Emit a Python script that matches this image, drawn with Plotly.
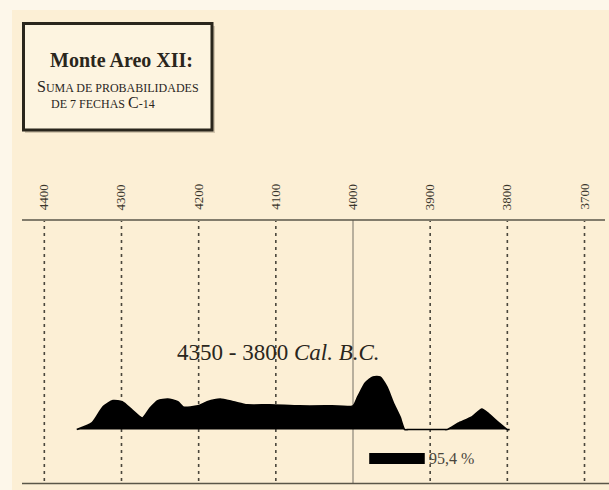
import plotly.graph_objects as go

# ---- data ----
years = [4358, 4338, 4324, 4311, 4299, 4286, 4273, 4263, 4253, 4240, 4227, 4220,
         4201, 4189, 4172, 4155, 4137, 4108, 4069, 4027, 4000, 3994, 3984, 3974,
         3965, 3956, 3948, 3939, 3933, 3928, 3883, 3878, 3864, 3846, 3833, 3825,
         3812, 3800, 3797]
prob = [0.0, 0.13, 0.43, 0.55, 0.53, 0.37, 0.22, 0.41, 0.55, 0.58, 0.53, 0.43,
        0.45, 0.53, 0.58, 0.53, 0.47, 0.47, 0.45, 0.45, 0.45, 0.62, 0.89, 1.0,
        1.0, 0.81, 0.52, 0.24, 0.0, 0.0, 0.0, 0.0, 0.12, 0.24, 0.39, 0.31,
        0.14, 0.0, 0.0]
tick_years = [4400, 4300, 4200, 4100, 4000, 3900, 3800, 3700]
tick_labels = [str(t) for t in tick_years]
range_954 = [3979, 3907]
range_label = "95,4 %"
span_text = "4350 - 3800 <i>Cal. B.C.</i>"

W, H = 609, 490
SERIF = "Liberation Serif, Times New Roman, serif"
INK = "#2a261c"
CREAM = "#fcefd5"

def py(p):  # pixel row -> paper y
    return 1 - p / H

def px(p):
    return p / W

fig = go.Figure()
fig.add_trace(go.Scatter(
    x=years, y=prob, mode="lines", fill="tozeroy",
    line=dict(color="black", width=1.6, shape="spline", smoothing=0.6),
    fillcolor="black", hoverinfo="skip", showlegend=False))

shapes = []
# cream canvas
shapes.append(dict(type="rect", xref="paper", yref="paper", x0=px(12), x1=1, y0=0, y1=py(10),
                   fillcolor=CREAM, line=dict(width=0), layer="below"))
# grid lines
for t in tick_years:
    if t == 4000:
        shapes.append(dict(type="line", xref="x", yref="paper", x0=t, x1=t, y0=py(483), y1=py(220),
                           line=dict(color="#8a8478", width=1.2), layer="below"))
    else:
        shapes.append(dict(type="line", xref="x", yref="paper", x0=t, x1=t, y0=py(481), y1=py(221),
                           line=dict(color="#4a463c", width=1.6, dash="3px,4px"), layer="below"))
# axis line & bottom line
shapes.append(dict(type="line", xref="paper", yref="paper", x0=px(22), x1=px(605), y0=py(220), y1=py(220),
                   line=dict(color="#5a5648", width=1.6)))
shapes.append(dict(type="line", xref="paper", yref="paper", x0=px(22), x1=1, y0=py(483.5), y1=py(483.5),
                   line=dict(color="#5a5648", width=1.6)))
# 95.4 % bar
shapes.append(dict(type="rect", xref="x", yref="paper", x0=range_954[0], x1=range_954[1],
                   y0=py(464), y1=py(453), fillcolor="black", line=dict(width=0)))
# title box shadow + box
shapes.append(dict(type="rect", xref="paper", yref="paper", x0=px(25), x1=px(215), y0=py(133), y1=py(26),
                   fillcolor="rgba(90,80,60,0.25)", line=dict(width=0), layer="below"))
shapes.append(dict(type="rect", xref="paper", yref="paper", x0=px(23.5), x1=px(212), y0=py(130), y1=py(23.5),
                   fillcolor="#fdf4e0", line=dict(color=INK, width=3), layer="below"))

C = dict(xanchor="center", yanchor="middle", showarrow=False)
ann = []
for t, lab in zip(tick_years, tick_labels):
    ann.append(dict(x=t, xref="x", y=py(197), yref="paper", text=lab, textangle=-90,
                    font=dict(family=SERIF, size=13, color="#3a362c"), **C))
ann.append(dict(x=px(121), xref="paper", y=py(60), yref="paper", text="<b>Monte Areo XII:</b>",
                font=dict(family=SERIF, size=20, color=INK), **C))
ann.append(dict(x=px(118), xref="paper", y=py(86), yref="paper",
                text="<span style='font-size:16px'>S</span>UMA DE PROBABILIDADES",
                font=dict(family=SERIF, size=12, color=INK), **C))
ann.append(dict(x=px(103), xref="paper", y=py(102), yref="paper",
                text="DE 7 FECHAS <span style='font-size:16px'>C</span>-14",
                font=dict(family=SERIF, size=12, color=INK), **C))
ann.append(dict(x=px(278), xref="paper", y=py(352), yref="paper", text=span_text,
                font=dict(family=SERIF, size=23, color=INK), **C))
ann.append(dict(x=range_954[1], xref="x", y=py(458), yref="paper", text=range_label,
                xanchor="left", yanchor="middle", xshift=2, showarrow=False,
                font=dict(family=SERIF, size=16, color="#4a463c")))

x_left = 4000 + 353 / 0.7717
x_right = 4000 - (W - 353) / 0.7717
fig.update_layout(
    width=W, height=H, margin=dict(l=0, r=0, t=0, b=0),
    paper_bgcolor="#fdf7ea", plot_bgcolor="rgba(0,0,0,0)",
    xaxis=dict(range=[x_left, x_right], visible=False, fixedrange=True),
    yaxis=dict(range=[-1.152, 8.181], visible=False, fixedrange=True),
    shapes=shapes, annotations=ann, showlegend=False)

fig.write_html("out.html", config=dict(displayModeBar=False),
               post_script="document.body.style.margin='0';")
